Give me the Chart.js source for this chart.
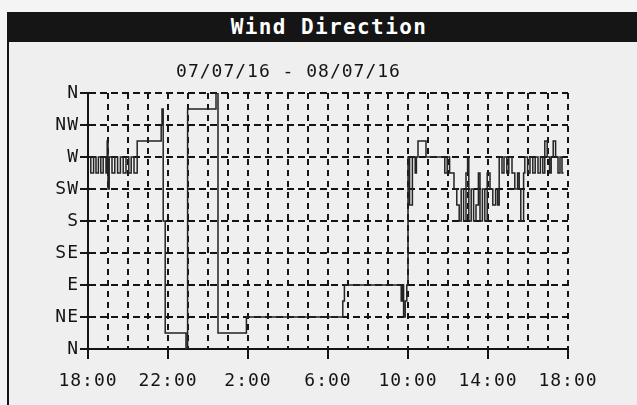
<!DOCTYPE html>
<html>
<head>
<meta charset="utf-8">
<script src="https://cdn.jsdelivr.net/npm/chart.js@4"></script>
<style>
html, body { margin: 0; padding: 0; background: #f4f4f4; overflow: hidden; }
#frame { position: absolute; left: 7px; top: 12px; width: 640px; height: 400px; border-left: 2px solid #151515; background: #efefef; }
#bar { height: 30px; background: #151515; color: #fff; font: bold 21px "DejaVu Sans Mono"; letter-spacing: 1.4px; text-align: center; line-height: 30px; }
#wrap { position: absolute; left: 0; top: 30px; }
</style>
</head>
<body>
<div id="frame">
  <div id="bar">Wind Direction</div>
  <div id="wrap"><canvas id="windChart" width="635" height="363"></canvas></div>
</div>
<script>
// hours after 18:00 on 07/07/16, direction in degrees (0 = N, 90 = E ...)
const hours = [
  0.05, 0.14, 0.28, 0.4, 0.52, 0.64, 0.76, 0.9, 0.96, 1.0, 1.06, 1.2, 1.34, 1.48,
  1.62, 1.76, 1.9, 2.04, 2.16, 2.3,
  2.46, 3.66, 3.7, 3.76, 3.86, 4.9, 4.98, 6.4, 6.5, 7.92, 12.74, 12.82,
  15.66, 15.72, 15.78, 15.86, 15.94,
  16.0, 16.08, 16.22, 16.36, 16.42, 16.5, 16.9,
  17.84, 17.96, 18.08, 18.3, 18.44, 18.56, 18.66, 18.78, 18.9, 18.98, 19.04, 19.16,
  19.28, 19.4, 19.52, 19.6, 19.72, 19.84, 19.96, 20.1, 20.24, 20.38, 20.48, 20.56,
  20.7, 20.8, 20.94, 21.04, 21.2, 21.34, 21.48, 21.56, 21.64, 21.78, 21.84, 21.98,
  22.1, 22.24, 22.36, 22.5, 22.62, 22.74, 22.84, 22.96, 23.08, 23.16, 23.26, 23.38,
  23.5, 23.6, 23.7, 23.78
];
const dirs = [
  270, 247.5, 270, 247.5, 270, 247.5, 270, 247.5, 292.5, 225, 270, 247.5, 270, 247.5,
  270, 247.5, 270, 247.5, 270, 247.5,
  292.5, 315, 337.5, 180, 22.5, 0, 337.5, 360, 22.5, 45, 67.5, 90,
  67.5, 90, 45, 67.5, 90,
  270, 202.5, 270, 247.5, 270, 292.5, 270,
  247.5, 270, 247.5, 225, 202.5, 180, 225, 180, 247.5, 270, 180, 225,
  180, 202.5, 247.5, 180, 225, 180, 247.5, 225, 202.5, 225, 202.5, 270,
  247.5, 270, 247.5, 270, 247.5, 225, 247.5, 225, 180, 247.5, 270, 247.5,
  270, 247.5, 270, 247.5, 270, 247.5, 292.5, 270, 247.5, 270, 292.5, 270,
  247.5, 270, 247.5, 247.5
];
const xTickLabels = ['18:00', '22:00', '2:00', '6:00', '10:00', '14:00', '18:00'];
const yTickLabels = ['N', 'NE', 'E', 'SE', 'S', 'SW', 'W', 'NW', 'N'];
const dateRange = '07/07/16 - 08/07/16';

const points = hours.map((h, i) => ({ x: h, y: dirs[i] }));
const ink = '#141414';
const mono = { family: '"DejaVu Sans Mono", monospace', size: 18, weight: 'normal' };

// the station font is wide, so spread the letters a little
const spacing = {
  id: 'spacing',
  beforeDraw(chart) { chart.ctx.letterSpacing = '1px'; }
};

const ctx = document.getElementById('windChart').getContext('2d');
const chart = new Chart(ctx, {
  type: 'line',
  data: {
    datasets: [{
      data: points,
      borderColor: '#232323',
      borderWidth: 1.5,
      pointRadius: 0,
      stepped: true,
      fill: false
    }]
  },
  options: {
    responsive: false,
    animation: false,
    devicePixelRatio: 1,
    layout: { padding: { left: 0, right: 76, top: 0, bottom: 0 } },
    plugins: {
      legend: { display: false },
      tooltip: { enabled: false },
      title: {
        display: true,
        text: dateRange,
        color: ink,
        font: mono,
        padding: { top: 19.5, bottom: 10 }
      }
    },
    scales: {
      x: {
        type: 'linear',
        min: 0,
        max: 24,
        afterFit: s => { s.height = 56; },
        ticks: {
          stepSize: 1,
          autoSkip: false,
          maxRotation: 0,
          padding: 12,
          color: ink,
          font: mono,
          callback: v => (v % 4 === 0 ? xTickLabels[v / 4] : '')
        },
        grid: {
          color: ink,
          lineWidth: 2,
          tickLength: 10,
          tickWidth: 2,
          tickColor: c => (c.tick && c.tick.value % 4 === 0 ? ink : 'rgba(0,0,0,0)')
        },
        border: { display: true, color: ink, width: 2, dash: [6, 5] }
      },
      y: {
        type: 'linear',
        min: 0,
        max: 360,
        afterFit: s => { s.width = 79; },
        ticks: {
          stepSize: 45,
          padding: 1,
          color: ink,
          font: mono,
          callback: v => yTickLabels[v / 45]
        },
        grid: {
          color: ink,
          lineWidth: 2,
          tickLength: 8,
          tickWidth: 2,
          tickColor: ink
        },
        border: { display: true, color: ink, width: 2, dash: [7, 4] }
      }
    }
  },
  plugins: [spacing]
});
</script>
</body>
</html>
